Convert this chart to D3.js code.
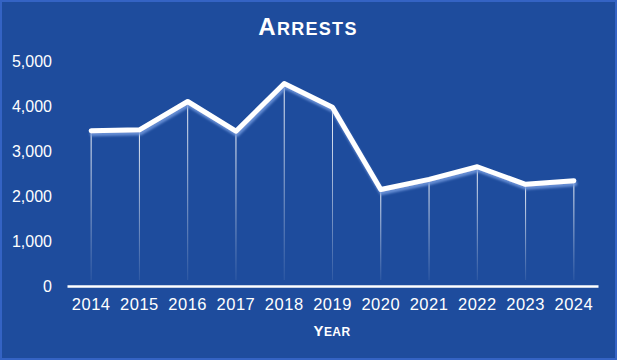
<!DOCTYPE html>
<html><head><meta charset="utf-8">
<script src="https://cdn.jsdelivr.net/npm/d3@7"></script>
<style>
html,body{margin:0;padding:0;background:#1e4c9d;}
svg{display:block;}
text{font-family:"Liberation Sans",Arial,sans-serif;fill:#fff;}
</style></head>
<body>
<svg id="chart" width="617" height="360"></svg>
<script>
const years = ["2014","2015","2016","2017","2018","2019","2020","2021","2022","2023","2024"];
const arrests = [3450, 3470, 4100, 3440, 4500, 3970, 2145, 2370, 2650, 2260, 2340];
const yTicks = [0, 1000, 2000, 3000, 4000, 5000];
const title = "Arrests";
const xTitle = "Year";

const W = 617, H = 360;
const svg = d3.select("#chart");
const defs = svg.append("defs");

const grad = defs.append("linearGradient").attr("id","dropGrad")
  .attr("x1",0).attr("y1",0).attr("x2",0).attr("y2",1);
grad.append("stop").attr("offset","0%").attr("stop-color","#fff").attr("stop-opacity",0.95);
grad.append("stop").attr("offset","100%").attr("stop-color","#fff").attr("stop-opacity",0.08);

const f = defs.append("filter").attr("id","shadow").attr("x","-10%").attr("y","-10%").attr("width","120%").attr("height","130%");
f.append("feDropShadow").attr("dx",1).attr("dy",3).attr("stdDeviation",1.2)
  .attr("flood-color","#6f97dc").attr("flood-opacity",0.85);

// background + border
svg.append("rect").attr("x",0).attr("y",0).attr("width",W).attr("height",H).attr("fill","#1e4c9d");
svg.append("rect").attr("x",1).attr("y",1).attr("width",W-2).attr("height",H-2)
  .attr("fill","none").attr("stroke","#3463c4").attr("stroke-width",2);

const x = d3.scaleBand().domain(years).range([67, 598]);
const y = d3.scaleLinear().domain([0, 5000]).range([286, 61]);
const cx = d => x(d) + x.bandwidth()/2;

// small-caps helper: first letter big, rest uppercase smaller
function smallCaps(sel, str, big, small, spacing) {
  sel.append("tspan").style("font-size", big + "px").text(str[0].toUpperCase());
  sel.append("tspan").style("font-size", small + "px").text(str.slice(1).toUpperCase());
  sel.style("letter-spacing", spacing + "px").style("font-weight", "bold");
}

// title
const tt = svg.append("text").attr("x",308).attr("y",34.5).attr("text-anchor","middle");
smallCaps(tt, title, 24, 18, 1.3);

// y axis labels
const yAxis = d3.axisLeft(y).tickValues(yTicks).tickFormat(d3.format(",")).tickSize(0).tickPadding(0);
const gy = svg.append("g").attr("transform","translate(52,0)").call(yAxis);
gy.select(".domain").remove();
gy.selectAll("text").style("font-size","16px").attr("fill","#fff").attr("dy","0.34em");

// drop lines
svg.append("g").selectAll("rect").data(years).join("rect")
  .attr("x", (d) => cx(d) - 0.5)
  .attr("y", (d,i) => y(arrests[i]))
  .attr("width", 1)
  .attr("height", (d,i) => 280 - y(arrests[i]))
  .attr("fill", "url(#dropGrad)");

// x axis
const xAxis = d3.axisBottom(x).tickSize(0).tickPadding(12);
const gx = svg.append("g").attr("transform","translate(0,286)").call(xAxis);
gx.select(".domain").attr("stroke","#fff").attr("stroke-width",2.5);
gx.selectAll("text").style("font-size","16.5px").style("letter-spacing","0.5px").attr("fill","#fff");

// line
const line = d3.line().x((d,i) => cx(years[i])).y(d => y(d));
svg.append("path").datum(arrests).attr("d", line)
  .attr("fill","none").attr("stroke","#fff").attr("stroke-width",5)
  .attr("stroke-linejoin","round").attr("stroke-linecap","round")
  .attr("filter","url(#shadow)");

// x title
const xt = svg.append("text").attr("x",332).attr("y",335.5).attr("text-anchor","middle");
smallCaps(xt, xTitle, 15, 12, 0.4);
</script>
</body></html>
